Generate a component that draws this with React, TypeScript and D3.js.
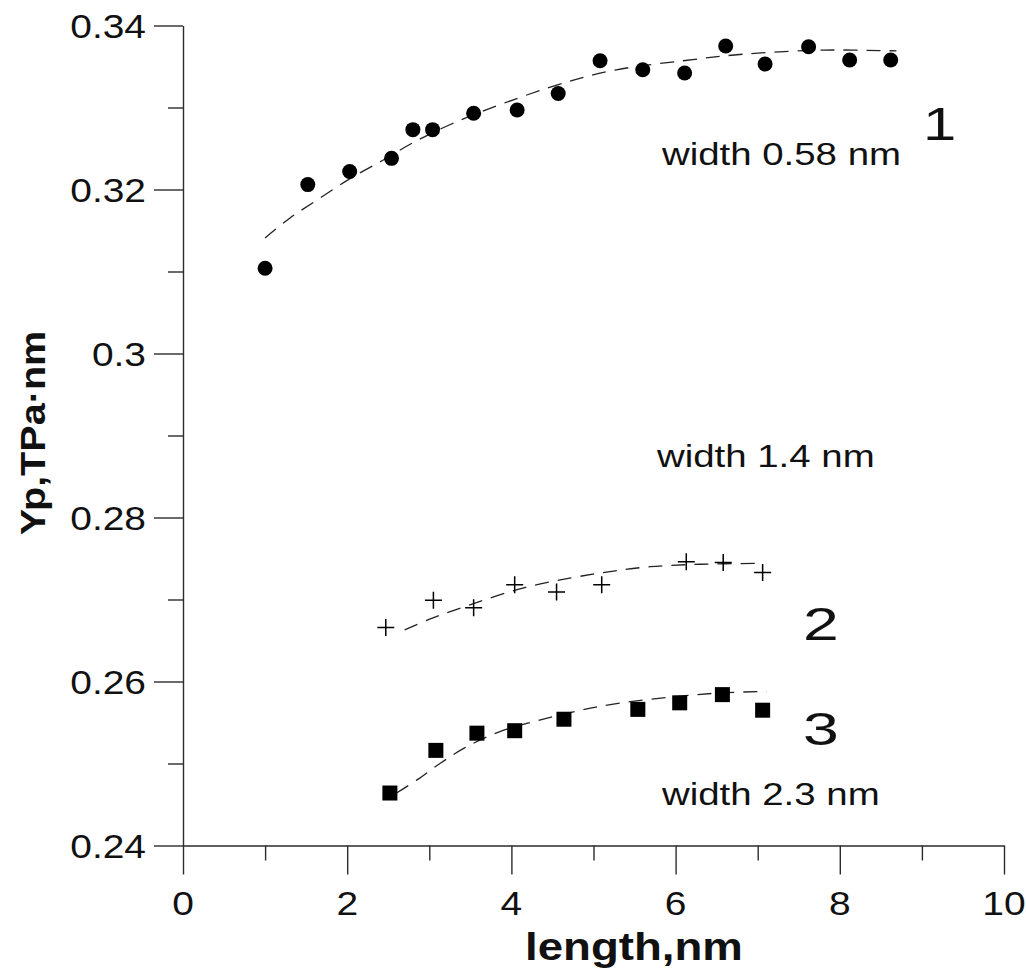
import { useEffect, useRef } from "react";
import * as d3 from "d3";

// series 1: width 0.58 nm (filled circles)
const len1 = [1.0, 1.52, 2.03, 2.54, 2.8, 3.04, 3.54, 4.07, 4.57, 5.08, 5.6, 6.11, 6.61, 7.09, 7.62, 8.12, 8.62];
const yp1 = [0.3104, 0.3206, 0.3222, 0.3238, 0.3273, 0.3273, 0.3293, 0.3297, 0.3317, 0.3357, 0.3346, 0.3342, 0.3375, 0.3353, 0.3374, 0.3358, 0.3358];
const fitLen1 = [1.0, 1.3, 1.63, 2.03, 2.44, 2.8, 3.25, 3.74, 4.67, 5.28, 6.09, 6.82, 7.8, 8.69];
const fitYp1 = [0.3141, 0.3165, 0.3187, 0.3213, 0.3236, 0.3257, 0.3279, 0.3299, 0.3331, 0.3346, 0.3357, 0.3365, 0.337, 0.3369];

// series 2: width 1.4 nm (crosses)
const len2 = [2.47, 3.05, 3.54, 4.04, 4.55, 5.1, 6.13, 6.58, 7.06];
const yp2 = [0.2666, 0.2699, 0.269, 0.2718, 0.2709, 0.2718, 0.2746, 0.2745, 0.2733];
const fitLen2 = [2.7, 3.03, 3.54, 4.14, 4.71, 5.2, 5.69, 6.3, 7.01];
const fitYp2 = [0.2663, 0.2677, 0.2695, 0.2714, 0.2726, 0.2734, 0.274, 0.2743, 0.2744];

// series 3: width 2.3 nm (filled squares)
const len3 = [2.52, 3.08, 3.58, 4.04, 4.64, 5.54, 6.05, 6.57, 7.06];
const yp3 = [0.2464, 0.2516, 0.2537, 0.254, 0.2554, 0.2566, 0.2574, 0.2584, 0.2565];
const fitLen3 = [2.6, 2.85, 3.13, 3.43, 3.86, 4.31, 4.8, 5.28, 5.93, 6.54, 7.11];
const fitYp3 = [0.2464, 0.248, 0.25, 0.2519, 0.2539, 0.2552, 0.2564, 0.2573, 0.2581, 0.2586, 0.2588];

const xTicks = [0, 2, 4, 6, 8, 10];
const xMinor = [1, 3, 5, 7, 9];
const yTicks = [0.24, 0.26, 0.28, 0.3, 0.32, 0.34];
const yMinor = [0.25, 0.27, 0.29, 0.31, 0.33];
const yTickLabels = ["0.24", "0.26", "0.28", "0.3", "0.32", "0.34"];

export default function App() {
  const svgRef = useRef(null);

  useEffect(() => {
    const el = svgRef.current;
    const W = 1026, H = 974;
    d3.select(el).selectAll("*").remove();
    const svg = d3.select(el).attr("width", W).attr("height", H).attr("viewBox", `0 0 ${W} ${H}`);

    const x = d3.scaleLinear().domain([0, 10]).range([183, 1004]);
    const y = d3.scaleLinear().domain([0.24, 0.34]).range([845.5, 25.5]);
    const font = "'Liberation Sans', Arial, sans-serif";
    const axisColor = "#2b2b2b";

    // the original picture is stretched sideways, so text gets a horizontal scale
    const label = (txt, px, py, size, anchor = "start", weight = "normal", sx = 1.2) =>
      svg.append("text")
        .attr("transform", `translate(${px},${py}) scale(${sx},1)`)
        .attr("font-family", font)
        .attr("font-size", size)
        .attr("font-weight", weight)
        .attr("text-anchor", anchor)
        .attr("fill", "#111")
        .text(txt);

    // Axes
    const xAx = svg.append("g").attr("transform", `translate(0,${y(0.24)})`);
    xAx.call(d3.axisBottom(x).tickValues(xTicks).tickSize(29).tickSizeOuter(0).tickFormat(""));
    xAx.append("g").call(d3.axisBottom(x).tickValues(xMinor).tickSize(15).tickFormat(""))
      .call(ax => ax.select(".domain").remove());
    xAx.selectAll("path,line").attr("stroke", axisColor).attr("stroke-width", 1.4);

    const yAx = svg.append("g").attr("transform", `translate(${x(0)},0)`);
    yAx.call(d3.axisLeft(y).tickValues(yTicks).tickSize(29).tickSizeOuter(0).tickFormat(""));
    yAx.append("g").call(d3.axisLeft(y).tickValues(yMinor).tickSize(15).tickFormat(""))
      .call(ax => ax.select(".domain").remove());
    yAx.selectAll("path,line").attr("stroke", axisColor).attr("stroke-width", 1.4);

    xTicks.forEach(t => label(String(t), x(t), 915, 33, "middle", "normal", 1.18));
    yTicks.forEach((t, i) => label(yTickLabels[i], 146, y(t) + 12, 33, "end", "normal", 1.18));

    label("length,nm", 525, 960, 38, "start", "bold", 1.2);
    svg.append("text")
      .attr("transform", `translate(45,${433}) rotate(-90) scale(1.1,1)`)
      .attr("font-family", font).attr("font-size", 36).attr("font-weight", "bold")
      .attr("text-anchor", "middle").attr("fill", "#111")
      .text("Yp,TPa·nm");

    // Fitted dashed curves
    const line = d3.line().x(d => x(d[0])).y(d => y(d[1])).curve(d3.curveCatmullRom);
    [[fitLen1, fitYp1], [fitLen2, fitYp2], [fitLen3, fitYp3]].forEach(([lx, ly]) => {
      svg.append("path")
        .datum(lx.map((v, i) => [v, ly[i]]))
        .attr("fill", "none").attr("stroke", "#222").attr("stroke-width", 1.3)
        .attr("stroke-dasharray", "14,9")
        .attr("d", line);
    });

    // Markers
    svg.append("g").selectAll("circle").data(len1.map((v, i) => [v, yp1[i]])).join("circle")
      .attr("cx", d => x(d[0])).attr("cy", d => y(d[1])).attr("r", 7.5).attr("fill", "#000");

    svg.append("g").selectAll("path").data(len2.map((v, i) => [v, yp2[i]])).join("path")
      .attr("d", d => `M${x(d[0]) - 8.5},${y(d[1])}H${x(d[0]) + 8.5}M${x(d[0])},${y(d[1]) - 8.5}V${y(d[1]) + 8.5}`)
      .attr("stroke", "#000").attr("stroke-width", 1.5).attr("fill", "none");

    svg.append("g").selectAll("rect").data(len3.map((v, i) => [v, yp3[i]])).join("rect")
      .attr("x", d => x(d[0]) - 7.5).attr("y", d => y(d[1]) - 7.5)
      .attr("width", 15).attr("height", 15).attr("fill", "#000");

    // Annotations
    label("width 0.58 nm", 662, 165, 32);
    label("1", 923, 140, 46, "start", "normal", 1.3);
    label("width 1.4 nm", 657, 467, 32);
    label("2", 803, 640, 46, "start", "normal", 1.4);
    label("width 2.3 nm", 662, 805, 32);
    label("3", 803, 745, 46, "start", "normal", 1.4);
  }, []);

  return (
    <div style={{ position: "absolute", left: 0, top: 0, width: 1026, height: 974, background: "#fff" }}>
      <svg ref={svgRef} style={{ display: "block" }} />
    </div>
  );
}
